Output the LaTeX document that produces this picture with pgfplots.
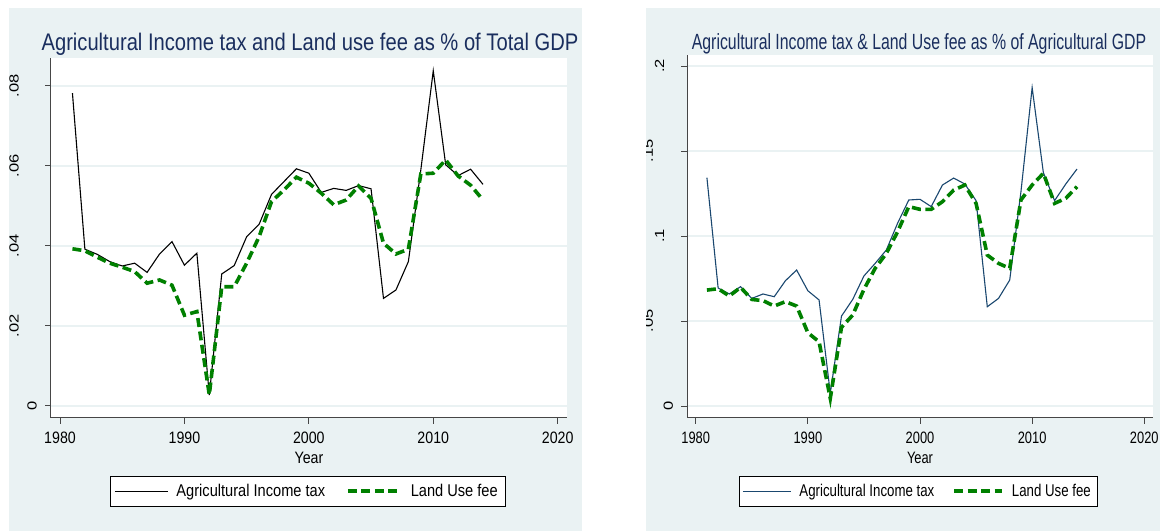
\documentclass[border=0pt]{standalone}
\usepackage{pgfplots}
\pgfplotsset{compat=1.18}
\usepackage{pgfplotstable}
\usepackage{graphicx}
\usepackage{fontspec}
\setmainfont{Liberation Sans}
\newfontfamily\fa{Liberation Sans}[FakeStretch=0.86]
\newfontfamily\fb{Liberation Sans}[FakeStretch=0.78]
\newfontfamily\fta{Liberation Sans}[FakeStretch=0.84]
\newfontfamily\ftb{Liberation Sans}[FakeStretch=0.72]
\newfontfamily\fn{Liberation Sans}
\definecolor{panelbg}{RGB}{234,242,243}
\definecolor{gridc}{RGB}{234,242,243}
\definecolor{titlec}{RGB}{26,46,94}
\definecolor{navyline}{RGB}{26,71,111}
\definecolor{lgreen}{RGB}{0,128,0}
\definecolor{axisc}{RGB}{70,70,70}

\newcommand\ylab[3]{\scalebox{#1}[1]{\rotatebox{90}{\fn\fontsize{16.5pt}{18pt}\selectfont #2}}\kern#3pt}

\pgfplotstableread{
year tax fee
1981 0.0782 0.0393
1982 0.0392 0.0388
1983 0.0379 0.0372
1984 0.0361 0.0357
1985 0.0350 0.0347
1986 0.0357 0.0336
1987 0.0334 0.0307
1988 0.0380 0.0315
1989 0.0411 0.0302
1990 0.0352 0.0227
1991 0.0382 0.0236
1992 0.0027 0.0028
1993 0.0330 0.0298
1994 0.0351 0.0298
1995 0.0423 0.0357
1996 0.0454 0.0423
1997 0.0529 0.0511
1998 0.0561 0.0540
1999 0.0593 0.0572
2000 0.0582 0.0557
2001 0.0534 0.0532
2002 0.0544 0.0503
2003 0.0539 0.0515
2004 0.0551 0.0550
2005 0.0543 0.0519
2006 0.0269 0.0407
2007 0.0290 0.0380
2008 0.0361 0.0392
2009 0.0590 0.0580
2010 0.0838 0.0582
2011 0.0603 0.0615
2012 0.0576 0.0575
2013 0.0592 0.0552
2014 0.0554 0.0515
}\tabA

\pgfplotstableread{
year tax fee
1981 0.1343 0.0682
1982 0.0694 0.0690
1983 0.0659 0.0647
1984 0.0702 0.0698
1985 0.0633 0.0627
1986 0.0659 0.0620
1987 0.0643 0.0588
1988 0.0737 0.0614
1989 0.0800 0.0588
1990 0.0678 0.0431
1991 0.0624 0.0378
1992 0.0075 0.0045
1993 0.0529 0.0463
1994 0.0627 0.0535
1995 0.0765 0.0686
1996 0.0839 0.0810
1997 0.0918 0.0898
1998 0.1075 0.1025
1999 0.1212 0.1173
2000 0.1216 0.1157
2001 0.1173 0.1157
2002 0.1300 0.1202
2003 0.1341 0.1270
2004 0.1306 0.1300
2005 0.1208 0.1192
2006 0.0584 0.0888
2007 0.0633 0.0839
2008 0.0741 0.0810
2009 0.1260 0.1212
2010 0.1873 0.1300
2011 0.1373 0.1369
2012 0.1208 0.1192
2013 0.1306 0.1222
2014 0.1394 0.1290
}\tabB

\pgfplotsset{
  stata/.style={
    scale only axis,
    axis x line*=bottom, axis y line*=left,
    axis line style={-, draw=axisc, line width=1pt},
    tick style={draw=axisc, line width=1pt},
    tick align=outside, major tick length=6pt,
    xtick={1980,1990,2000,2010,2020},
    xticklabels={1980,1990,2000,2010,2020},
    ymajorgrids, grid style={draw=gridc, line width=1.6pt},
    axis background/.style={fill=white},
    scaled y ticks=false,
    yticklabel style={anchor=east, inner sep=0pt, xshift=-8pt},
    xticklabel style={yshift=-5pt},
    legend cell align=left,
    legend columns=2,
  },
  taxline/.style={color=black, line width=1.1pt},
  feeline/.style={color=lgreen, line width=3.6pt, dash pattern=on 9pt off 4.5pt},
}

\begin{document}
\begin{tikzpicture}
\useasboundingbox (0pt,0pt) rectangle (1160pt,531pt);
\fill[panelbg] (9pt,0pt) rectangle (582pt,523pt);
\fill[panelbg] (646pt,0pt) rectangle (1160pt,523pt);

% ---------------- left panel ----------------
\begin{axis}[stata,
  at={(51pt,113.3pt)}, anchor=south west,
  width=516pt, height=359.7pt,
  xmin=1979.276, xmax=2020.75,
  ymin=-0.00293, ymax=0.0870,
  ytick={0,0.02,0.04,0.06,0.08},
  yticklabels={\ylab{0.8}{0}{0},\ylab{0.8}{.02}{18},\ylab{0.8}{.04}{18},\ylab{0.8}{.06}{18},\ylab{0.8}{.08}{18}},
  xticklabel style={font=\fa\fontsize{16.5pt}{18pt}\selectfont},
  xlabel={Year},
  xlabel style={font=\fa\fontsize{16.5pt}{18pt}\selectfont, at={(axis description cs:0.5,-0.112)}, anchor=center},
  legend style={at={(0.1143,-0.162)}, anchor=north west, draw=black, line width=0.8pt, fill=white,
    inner xsep=4pt, inner ysep=4pt,
    font=\fa\fontsize{17pt}{19pt}\selectfont,
    nodes={inner xsep=4pt, inner ysep=4pt},
    /tikz/every odd column/.style={column sep=4pt},
    /tikz/every even column/.style={column sep=17pt}},
  legend image code/.code={\draw[#1] (0pt,0pt) -- (53pt,0pt);},
]
\addplot[taxline] table[x=year, y=tax] {\tabA};
\addlegendentry{Agricultural Income tax}
\addplot[feeline] table[x=year, y=fee] {\tabA};
\addlegendentry{Land Use fee}
\end{axis}

% ---------------- right panel ----------------
\begin{axis}[stata,
  at={(687.3pt,113.3pt)}, anchor=south west,
  width=465.4pt, height=362.7pt,
  xmin=1979.25, xmax=2020.75,
  ymin=-0.00688, ymax=0.2065,
  ytick={0,0.05,0.1,0.15,0.2},
  yticklabels={\ylab{0.8}{0}{0},\ylab{0.8}{.05}{20},\ylab{0.8}{.1}{9},\ylab{0.8}{.15}{20},\ylab{0.8}{.2}{9}},
  xticklabel style={font=\fb\fontsize{16.5pt}{18pt}\selectfont},
  xlabel={Year},
  xlabel style={font=\fb\fontsize{16.5pt}{18pt}\selectfont, at={(axis description cs:0.5,-0.111)}, anchor=center},
  legend style={at={(0.111,-0.1607)}, anchor=north west, draw=black, line width=0.8pt, fill=white,
    inner xsep=3pt, inner ysep=4pt,
    font=\fb\fontsize{17pt}{19pt}\selectfont,
    nodes={inner xsep=4pt, inner ysep=4pt},
    /tikz/every odd column/.style={column sep=4pt},
    /tikz/every even column/.style={column sep=14pt}},
  legend image code/.code={\draw[#1] (0pt,0pt) -- (48pt,0pt);},
]
\addplot[taxline, color=navyline] table[x=year, y=tax] {\tabB};
\addlegendentry{Agricultural Income tax}
\addplot[feeline] table[x=year, y=fee] {\tabB};
\addlegendentry{Land Use fee}
\end{axis}

% clip label overhang like the reference
\fill[white] (0pt,0pt) rectangle (9pt,531pt);
\fill[white] (582pt,0pt) rectangle (646pt,531pt);

% titles
\node[anchor=base, text=titlec, font=\fta\fontsize{24pt}{26pt}\selectfont, inner sep=0pt] at (310pt,480.9pt) {Agricultural Income tax and Land use fee as \% of Total GDP};
\node[anchor=base, text=titlec, font=\ftb\fontsize{22pt}{24pt}\selectfont, inner sep=0pt] at (919pt,481.8pt) {Agricultural Income tax \& Land Use fee as \% of Agricultural GDP};
\end{tikzpicture}
\end{document}
